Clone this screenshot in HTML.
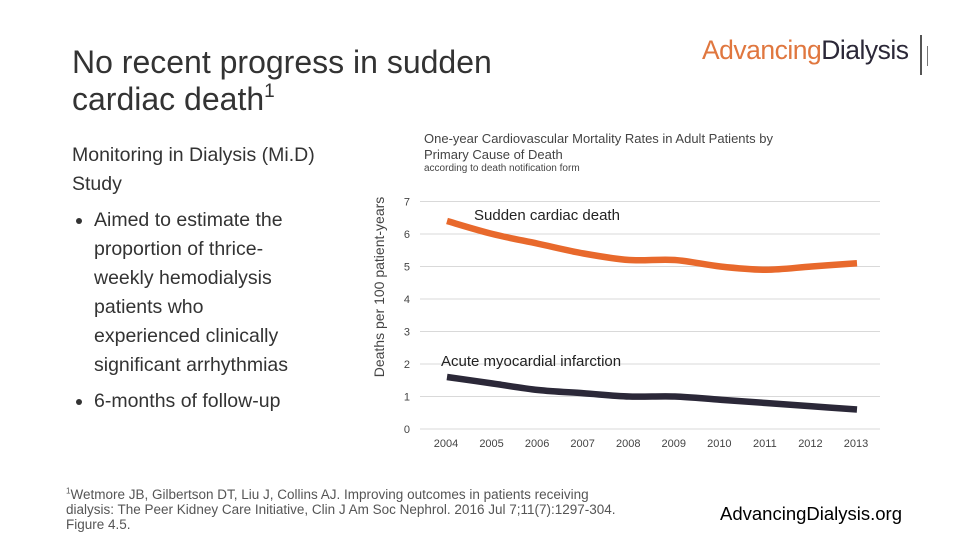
<!DOCTYPE html>
<html><head><meta charset="utf-8"><style>
body{margin:0;width:960px;height:540px;background:#fff;font-family:"Liberation Sans",sans-serif;position:relative;overflow:hidden;color:#333}
.a{position:absolute}
sup{line-height:0}
</style></head><body>
<div class="a" style="left:72px;top:44px;font-size:32px;line-height:37px;color:#333">No recent progress in sudden<br>cardiac death<span style="font-size:19px;position:relative;top:-13px">1</span></div>
<div class="a" style="left:702px;top:35px;font-size:26.5px;letter-spacing:-0.5px"><span style="color:#E0773F">Advancing</span><span style="color:#2B2838">Dialysis</span></div>
<div class="a" style="left:920px;top:35px;width:2px;height:40px;background:#555"></div>
<div class="a" style="left:927px;top:46px;width:1px;height:20px;background:#777"></div>
<div class="a" style="left:72px;top:141px;font-size:19.5px;line-height:29px;color:#333">Monitoring in Dialysis (Mi.D)<br>Study</div>
<ul class="a" style="left:72px;top:206px;margin:0;padding:0 0 0 22px;font-size:19.5px;line-height:29px;width:218px;color:#333">
<li style="margin-bottom:7px">Aimed to estimate the proportion of thrice-weekly hemodialysis patients who experienced clinically significant arrhythmias</li>
<li>6-months of follow-up</li></ul>
<div class="a" style="left:424px;top:131px;font-size:13px;line-height:16px;color:#444">One-year Cardiovascular Mortality Rates in Adult Patients by<br>Primary Cause of Death</div>
<div class="a" style="left:424px;top:163px;font-size:10px;color:#444">according to death notification form</div>
<div class="a" style="left:66px;top:487px;font-size:13.5px;line-height:15px;color:#555;width:570px"><sup style="font-size:8px">1</sup>Wetmore JB, Gilbertson DT, Liu J, Collins AJ. Improving outcomes in patients receiving dialysis: The Peer Kidney Care Initiative, Clin J Am Soc Nephrol. 2016 Jul 7;11(7):1297-304. Figure 4.5.</div>
<div class="a" style="left:720px;top:503px;font-size:18.5px;color:#000">AdvancingDialysis.org</div>
<svg class="a" style="left:0;top:0" width="960" height="540">
<g id="g"></g>
<text transform="translate(384,287) rotate(-90)" text-anchor="middle" font-size="14" fill="#444" font-family="Liberation Sans">Deaths per 100 patient-years</text>
</svg>
<script>
const years=["2004","2005","2006","2007","2008","2009","2010","2011","2012","2013"];
const sudden=[6.4,6.0,5.7,5.4,5.2,5.2,5.0,4.9,5.0,5.1];
const ami=[1.6,1.4,1.2,1.1,1.0,1.0,0.9,0.8,0.7,0.6];
const yTicks=[0,1,2,3,4,5,6,7];
const NS="http://www.w3.org/2000/svg";
const g=document.getElementById('g');
const X=i=>447+i*(410/9);
const Y=v=>429-v*32.5;
function mk(t,a){const e=document.createElementNS(NS,t);for(const k in a)e.setAttribute(k,a[k]);g.appendChild(e);return e;}
yTicks.forEach(v=>{
 const l=mk('line',{x1:420,x2:880,y1:Y(v),y2:Y(v),stroke:'#d9d9d9','stroke-width':1});
 
 
 const t=mk('text',{x:410,y:Y(v)+4,'text-anchor':'end','font-size':11,fill:'#444','font-family':'Liberation Sans'});
 t.textContent=v;
 
 
});
years.forEach((y,i)=>{
 const t=mk('text',{x:X(i)-1,y:447,'text-anchor':'middle','font-size':11,fill:'#444','font-family':'Liberation Sans'});
 t.textContent=y;
 
 
});
function path(vals){
 const p=vals.map((v,i)=>[X(i),Y(v)]);
 let d='M'+p[0][0]+','+p[0][1];
 for(let i=0;i<p.length-1;i++){
  const p0=p[i-1]||p[i],p1=p[i],p2=p[i+1],p3=p[i+2]||p2;
  const c1=[p1[0]+(p2[0]-p0[0])/6,p1[1]+(p2[1]-p0[1])/6];
  const c2=[p2[0]-(p3[0]-p1[0])/6,p2[1]-(p3[1]-p1[1])/6];
  d+=` C${c1[0]},${c1[1]} ${c2[0]},${c2[1]} ${p2[0]},${p2[1]}`;
 }
 return d;
}
const s=mk('path',{d:path(sudden),fill:'none',stroke:'#E8692C','stroke-width':6.5});


const a=mk('path',{d:path(ami),fill:'none',stroke:'#2B2838','stroke-width':6.5});


const l1=mk('text',{x:474,y:220,'font-size':15,fill:'#222','font-family':'Liberation Sans'});
l1.textContent='Sudden cardiac death';


const l2=mk('text',{x:441,y:366,'font-size':15,fill:'#222','font-family':'Liberation Sans'});
l2.textContent='Acute myocardial infarction';


</script>
</body></html>
